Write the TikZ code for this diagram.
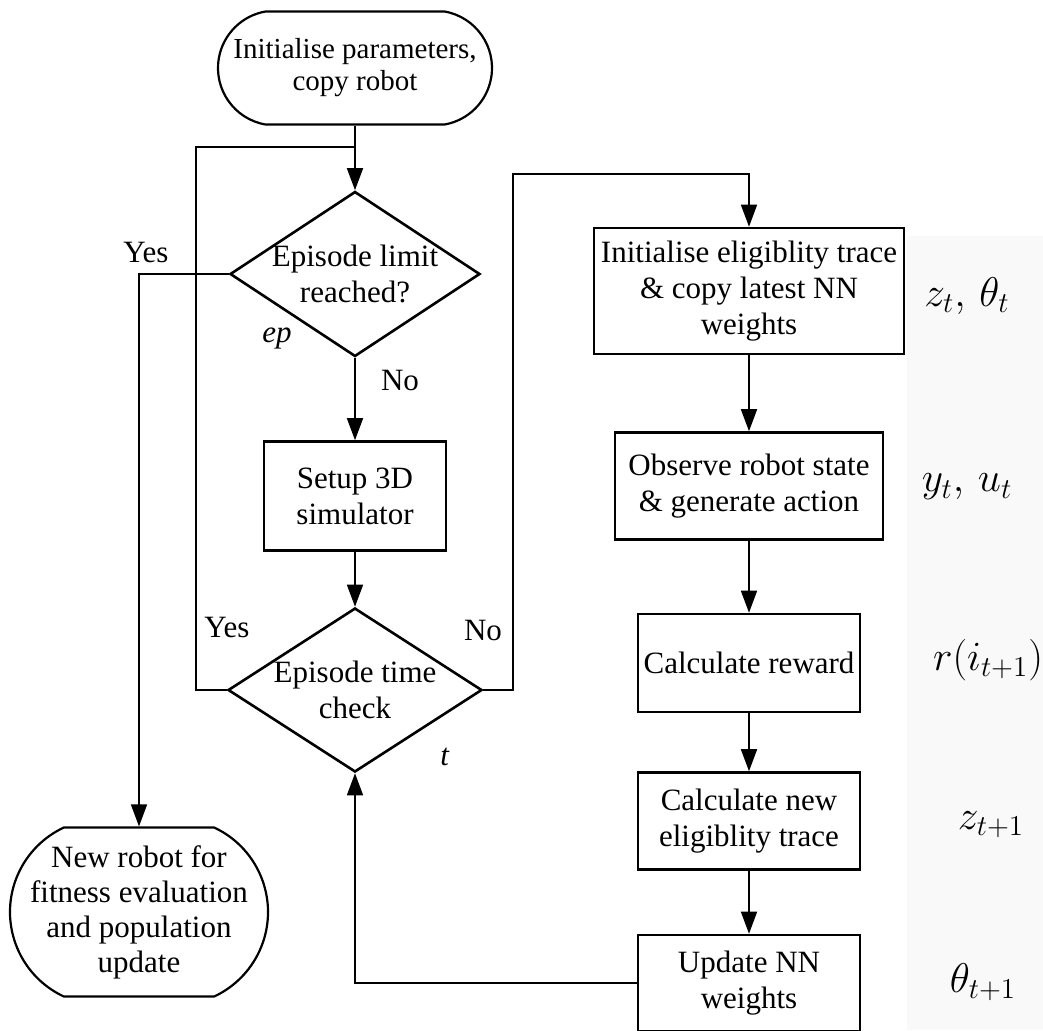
\documentclass[tikz,border=0pt]{standalone}
\usepackage{amsmath}
\usepackage{fontspec}
\setmainfont{Liberation Serif}
\usetikzlibrary{arrows.meta}
\usetikzlibrary{shapes.geometric}
\usetikzlibrary{shapes.misc}
\tikzset{l/.style={font=\fontsize{15.5}{18}\selectfont, align=center}}
\tikzset{m/.style={font=\fontsize{20}{20}\selectfont}}
\tikzset{proc/.style={draw, line width=1.3pt, inner sep=0pt}}
\tikzset{dec/.style={draw, diamond, line width=1.3pt, inner sep=0pt}}
\tikzset{term/.style={draw, rounded rectangle, line width=1.1pt, inner sep=0pt}}

\begin{document}
\begin{tikzpicture}[x=0.5pt, y=-0.5pt, line width=0.8pt, >={Triangle[length=11pt, width=8pt]}]
        \useasboundingbox (0,0) rectangle (1043,1030);
        \fill [black!2.5] (907,236) rectangle (1043,1030);
        % main loop
        \node [term, rounded rectangle arc length=160, minimum width=137pt, minimum height=56.5pt] (start) at (355,68) {};
        \node (starttxt) at (start) [l, font=\fontsize{14.5}{16}\selectfont] {Initialise parameters,\\copy robot};
        \node [dec, minimum width=125pt, minimum height=82.5pt] (limit) at (355,274) {};
        \node (limittxt) at (limit) [l] {Episode limit\\reached?};
        \node [proc, minimum width=91pt, minimum height=54.5pt] (setup) at (355,496) {};
        \node (setuptxt) at (setup) [l] {Setup 3D\\simulator};
        \node [dec, minimum width=127pt, minimum height=82pt] (time) at (355,690) {};
        \node (timetxt) at (time) [l] {Episode time\\check};
        \node [term, rounded rectangle arc length=130, minimum width=129pt, minimum height=84.5pt] (robot) at (139,912) {};
        \node (robottxt) at (robot) [l, font=\fontsize{15.5}{17.5}\selectfont] {New robot for\\fitness evaluation\\and population\\update};
        % learning steps
        \node [proc, minimum width=155pt, minimum height=63pt] (trace) at (749,291) {};
        \node (tracetxt) at (trace) [l] {Initialise eligiblity trace\\\& copy latest NN\\weights};
        \node [proc, minimum width=134pt, minimum height=53.5pt] (observe) at (749,486) {};
        \node (observetxt) at (observe) [l] {Observe robot state\\\& generate action};
        \node [proc, minimum width=111pt, minimum height=49pt] (reward) at (749,663) {};
        \node (rewardtxt) at (reward) [l] {Calculate reward};
        \node [proc, minimum width=111pt, minimum height=48.5pt] (newtrace) at (749,821) {};
        \node (newtracetxt) at (newtrace) [l] {Calculate new\\eligiblity trace};
        \node [proc, minimum width=111pt, minimum height=48pt] (update) at (749,983) {};
        \node (updatetxt) at (update) [l] {Update NN\\weights};
        % variables
        \node (zt) at (967,296) [m] {$z_t,\,\theta_t$};
        \node (yt) at (967,487) [m] {$y_t,\,u_t$};
        \node (rt) at (988,660) [m] {$r(i_{t+1})$};
        \node (zt1) at (991,825) [m] {$z_{t+1}$};
        \node (th1) at (983,982) [m] {$\theta_{t+1}$};
        % connectors
        \coordinate (top) at (355,147);
        \coordinate (yesbend) at (196,147);
        \coordinate (nobend) at (513,174);
        \draw [->] (start) -- (limit);
        \draw [->] (limit.west) -| (robot.north);
        \draw [->] (limit) -- (setup);
        \draw [->] (setup) -- (time);
        \draw (time.west) -| (yesbend) -- (top);
        \draw [->] (time.east) -| (nobend) -| (trace.north);
        \draw [->] (trace) -- (observe);
        \draw [->] (observe) -- (reward);
        \draw [->] (reward) -- (newtrace);
        \draw [->] (newtrace) -- (update);
        \draw [->] (update.west) -| (time.south);
        \node (yes1) at (146,252) [l] {Yes};
        \node (ep) at (277,338) [l] {\textit{ep}};
        \node (no1) at (400,380) [l] {No};
        \node (yes2) at (227,627) [l] {Yes};
        \node (no2) at (483,630) [l] {No};
        \node (tt) at (445,757) [l] {\textit{t}};
\end{tikzpicture}
\end{document}
